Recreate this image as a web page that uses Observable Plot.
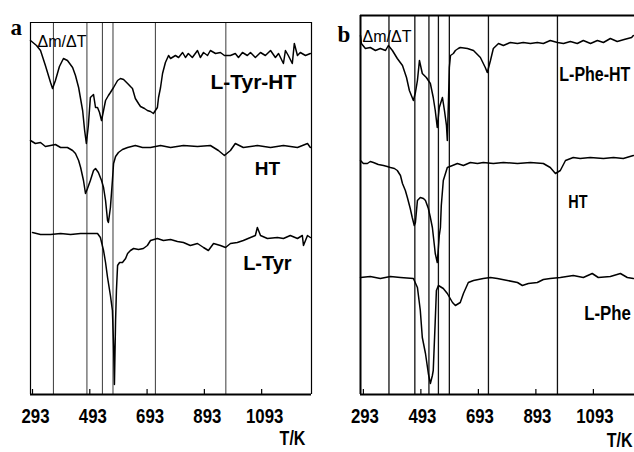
<!DOCTYPE html>
<html><head><meta charset="utf-8">
<script src="https://cdn.jsdelivr.net/npm/d3@7"></script>
<script src="https://cdn.jsdelivr.net/npm/@observablehq/plot@0.6"></script>
<style>
body{margin:0;background:#fff;width:634px;height:452px;overflow:hidden;position:relative;}
#a,#b{position:absolute;top:0}
#a{left:0}#b{left:330px}
svg{overflow:visible}
</style></head><body><div id="a"></div><div id="b"></div>
<script>
// Shared tick labels (temperature, K)
const tickValues = [293, 493, 693, 893, 1093];

// ---------- Panel a ----------
const peaksA = [366, 483, 537, 574, 722, 968];

const tyrHT_T = [286,307,321,338,356,363,373,387,401,415,433,443,454,468,475,481,488,495,506,513,520,527,534,541,548,558,565,576,590,600,611,625,635,642,652,663,670,684,694,705,715,722,729,733,740,747,757,768,775,792,803,817,827,837,851,869,879,890,904,914,932,949,963,984,1001,1012,1026,1043,1054,1071,1089,1106,1124,1141,1152,1169,1176,1186,1200,1207,1218,1228,1246,1263];
const tyrHT_S = [354,349,344,329,312,306,314,328,336,334,327,319,307,284,264,251,269,297,300,287,287,282,274,284,294,299,302,307,314,316,315,311,308,306,296,291,288,286,284,283,281,284,287,297,307,321,332,339,336,339,337,342,337,341,337,344,337,342,339,344,341,342,339,339,341,337,342,339,342,337,342,339,344,337,341,331,344,339,331,351,339,342,339,341];

const htA_T = [286,303,321,338,356,373,391,415,433,443,454,461,471,478,485,495,506,513,523,534,541,548,555,558,565,572,576,583,593,607,625,652,677,705,740,775,820,869,914,942,963,984,1001,1029,1078,1124,1169,1218,1253,1263];
const htA_S = [254,251,252,248,249,250,247,247,244,241,234,227,214,201,206,214,224,226,222,214,207,194,174,172,187,214,231,238,242,245,247,249,247,247,249,247,249,248,249,244,239,244,251,247,249,247,249,247,251,247];

const tyr_T = [293,321,356,391,426,461,495,520,530,541,548,555,565,572,576,579,583,586,590,597,607,618,625,635,646,663,680,694,705,729,750,775,799,820,844,869,890,907,925,949,967,984,1008,1029,1054,1071,1078,1089,1113,1148,1169,1193,1218,1235,1239,1253,1263];
const tyr_S = [162,160,160,161,160,161,161,161,157,144,132,117,99,84,49,10,74,104,129,132,132,136,141,144,146,145,146,149,154,156,154,155,153,152,149,151,147,144,151,149,147,151,152,154,157,159,167,159,156,157,156,159,156,159,149,159,157];

// ---------- Panel b ----------
const peaksB = [382, 472, 521, 554, 592, 728, 968];

const pheHT_T = [283,286,300,317,335,352,370,380,394,411,429,443,453,467,474,481,488,498,512,526,536,543,550,557,568,575,582,585,589,592,596,606,613,623,630,655,676,700,717,724,735,745,763,780,804,829,849,874,898,919,943,968,989,1013,1037,1058,1083,1107,1128,1152,1176,1200,1226,1232];
const pheHT_S = [359,351,346,347,344,346,344,349,344,336,329,317,304,294,302,314,334,321,317,311,297,284,267,287,297,284,269,254,294,327,339,341,344,346,347,346,344,337,327,322,334,346,351,349,352,351,352,351,352,351,354,352,351,353,351,354,351,354,352,356,353,355,357,359];

const htB_T = [283,293,307,317,328,345,363,376,387,401,411,422,429,439,446,456,463,470,474,481,491,502,509,519,526,533,540,543,550,554,557,561,564,571,585,603,620,641,665,690,710,745,780,829,874,919,943,961,978,996,1023,1047,1082,1128,1163,1197,1232];
const htB_S = [234,231,231,233,232,230,229,228,227,226,224,219,211,204,197,186,177,169,172,194,197,196,194,186,177,167,149,141,132,147,159,167,189,214,227,229,231,229,232,231,232,231,232,231,232,231,227,221,224,234,237,236,237,236,237,236,239];

const phe_T = [283,317,352,387,422,467,481,491,498,509,519,526,533,536,543,547,554,571,585,603,613,630,641,658,676,710,735,759,794,829,846,867,898,919,943,978,1023,1058,1089,1110,1152,1187,1211,1232];
const phe_S = [117,118,116,118,117,116,107,84,57,41,21,11,19,24,74,104,109,106,101,92,89,92,101,112,114,116,117,116,114,112,109,111,112,115,116,117,119,117,121,117,118,121,117,116];

const toRows = (T, S) => T.map((t, i) => ({T: t, s: S[i]}));

const SANS = "'Liberation Sans', Arial, Helvetica, sans-serif";
const NARROW = "'Liberation Sans Narrow', 'Liberation Sans', Arial, sans-serif";
const SERIF = "'Liberation Serif', 'Times New Roman', serif";

// horizontally condense texts drawn with the NARROW family
function condense(svg, k) {
  svg.querySelectorAll("[font-family*='Narrow'] text, text[font-family*='Narrow']").forEach(t => {
    const tr = t.getAttribute("transform") || "";
    const x = parseFloat(t.getAttribute("x"));
    if (!isNaN(x) && x !== 0) t.setAttribute("x", x / k);
    t.setAttribute("transform", (tr ? tr + " " : "") + `scale(${k},1)`);
  });
  return svg;
}

function panel(o) {
  const [x0, x1] = o.xDomain;
  const marks = [
    Plot.ruleX(o.peaks, {stroke: o.gridColor, strokeWidth: o.gridW}),
    ...o.curves.map(c => Plot.line(toRows(c[0], c[1]), {x: "T", y: "s", stroke: "#000", strokeWidth: 1.5})),
    // inward tick marks on the bottom axis
    Plot.ruleX(tickValues, {y1: 0, y2: 5, stroke: "#000", strokeWidth: 1.2}),
    // frame
    Plot.ruleY([0], {stroke: "#000", strokeWidth: 2.2}),
    Plot.ruleY([o.yMax], {stroke: "#000", strokeWidth: o.topW}),
    Plot.ruleX([x0], {stroke: "#000", strokeWidth: o.leftW}),
    ...(o.rightFrame ? [Plot.ruleX([x1], {stroke: "#000", strokeWidth: 1.2})] : []),
    Plot.axisX(tickValues, {
      tickSize: 0, tickPadding: 14, tickFormat: d => String(d),
      fontSize: 21, fontWeight: "bold", fontFamily: NARROW, dx: o.tickDx, label: null
    }),
    // curve labels
    ...o.labels.map(l => Plot.text([l.text], {
      x: () => l.x, y: () => l.y, text: d => d, fontSize: l.size, fontWeight: "bold",
      fontFamily: l.font, fill: "#000", textAnchor: "middle"
    })),
    // panel letter
    Plot.text([o.letter], {frameAnchor: "top-left", text: d => d, dx: o.letterDx, dy: o.letterDy,
      fontSize: 23, fontWeight: "bold", fontFamily: SERIF, textAnchor: "start", fill: "#000"}),
    // y label
    Plot.text(["\u0394m/\u0394T"], {frameAnchor: "top-left", text: d => d, dx: o.ylabDx, dy: o.ylabDy,
      fontSize: 16, fontFamily: SANS, textAnchor: "start", fill: "#000"}),
    // x label
    Plot.text(["T/K"], {frameAnchor: "bottom-right", text: d => d, dx: o.xlabDx, dy: o.xlabDy,
      fontSize: 20, fontWeight: "bold", fontFamily: NARROW, textAnchor: o.xlabAnchor, fill: "#000"})
  ];
  return condense(Plot.plot({
    width: o.width, height: 452,
    marginLeft: o.marginLeft, marginRight: o.marginRight, marginTop: o.marginTop, marginBottom: 58,
    style: {background: "transparent", overflow: "visible"},
    x: {domain: o.xDomain, axis: null},
    y: {domain: [0, o.yMax], axis: null},
    marks
  }), 0.8);
}

document.getElementById("a").append(panel({
  width: 320, marginLeft: 30, marginRight: 9, marginTop: 22,
  xDomain: [286, 1267], yMax: 372, topW: 1.2, leftW: 1.2, rightFrame: true, tickDx: 3,
  gridColor: "#3a3a3a", gridW: 1,
  peaks: peaksA,
  curves: [[tyrHT_T, tyrHT_S], [htA_T, htA_S], [tyr_T, tyr_S]],
  labels: [
    {text: "L-Tyr-HT", x: 1064, y: 312, size: 21, font: SANS},
    {text: "HT", x: 1113, y: 226, size: 19, font: SANS},
    {text: "L-Tyr", x: 1113, y: 131, size: 20, font: SANS}
  ],
  letter: "a", letterDx: -20, letterDy: -4,
  ylabDx: 7, ylabDy: 13,
  xlabDx: -19, xlabDy: 50, xlabAnchor: "middle"
}));

document.getElementById("b").append(panel({
  width: 304, marginLeft: 30, marginRight: 0, marginTop: 15,
  xDomain: [283, 1236], yMax: 379, topW: 2.2, leftW: 2, rightFrame: false, tickDx: 1.5,
  gridColor: "#111", gridW: 1.3,
  peaks: peaksB,
  curves: [[pheHT_T, pheHT_S], [htB_T, htB_S], [phe_T, phe_S]],
  labels: [
    {text: "L-Phe-HT", x: 1098, y: 319.5, size: 20, font: NARROW},
    {text: "HT", x: 1039, y: 192.5, size: 18, font: NARROW},
    {text: "L-Phe", x: 1142, y: 81.5, size: 21, font: NARROW}
  ],
  letter: "b", letterDx: -23, letterDy: 10,
  ylabDx: 2, ylabDy: 15,
  xlabDx: -2, xlabDy: 52, xlabAnchor: "end"
}));
</script>
</body></html>
